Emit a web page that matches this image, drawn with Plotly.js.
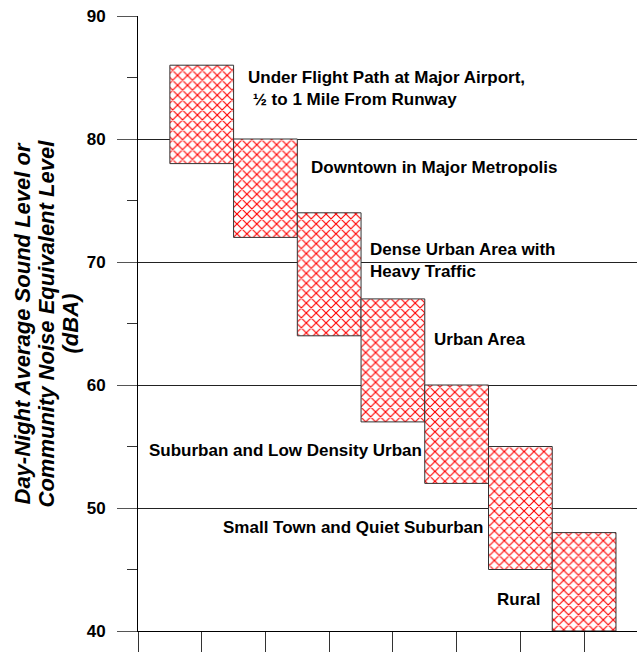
<!DOCTYPE html>
<html>
<head>
<meta charset="utf-8">
<script src="https://cdn.plot.ly/plotly-3.0.1.min.js"></script>
<style>html,body{margin:0;padding:0;background:#fff;}#chart{width:637px;height:652px;}</style>
</head>
<body>
<div id="chart"></div>
<script>
// Data
const categories = [1, 2, 3, 4, 5, 6, 7];
const lowLevels = [78, 72, 64, 57, 52, 45, 40];
const highLevels = [86, 80, 74, 67, 60, 55, 48];
const labels = [
  "Under Flight Path at Major Airport,<br> ½ to 1 Mile From Runway",
  "Downtown in Major Metropolis",
  "Dense Urban Area with<br>Heavy Traffic",
  "Urban Area",
  "Suburban and Low Density Urban",
  "Small Town and Quiet Suburban",
  "Rural"
];
const labelX = [1.70, 2.69, 3.61, 4.62, 0.14, 1.31, 5.60];
const labelY = [84.1, 77.7, 70.1, 63.7, 54.7, 48.4, 42.6];
const yTicks = [40, 50, 60, 70, 80, 90];
const titleLines = ["Day-Night Average Sound Level or", "Community Noise Equivalent Level", "(dBA)"];

const heights = highLevels.map((h, i) => h - lowLevels[i]);

const trace = {
  type: 'bar',
  x: categories,
  y: heights,
  base: lowLevels,
  width: 1,
  marker: {
    color: '#ffffff',
    line: {color: '#333333', width: 1},
    pattern: {shape: 'x', fgcolor: '#ff0000', bgcolor: '#ffffff', size: 7, solidity: 0.3}
  },
  hoverinfo: 'skip'
};

const font = 'Liberation Sans, Arial, sans-serif';
const annotations = labels.map((t, i) => ({
  x: labelX[i], y: labelY[i], xref: 'x', yref: 'y',
  text: t, showarrow: false, xanchor: 'left', yanchor: 'middle', align: 'left',
  font: {family: font, size: 17, color: '#000', weight: 'bold'}
}));
const titleX = [22, 46, 70];
titleLines.forEach((t, i) => {
  annotations.push({
    x: (titleX[i] - 138) / 499, y: 0.5, xref: 'paper', yref: 'paper',
    text: '<b><i>' + t + '</i></b>',
    showarrow: false, textangle: -90, xanchor: 'center', yanchor: 'middle', align: 'center',
    font: {family: font, size: 22, color: '#000'}
  });
});

const layout = {
  width: 637, height: 652,
  margin: {l: 138, r: 0, t: 16, b: 21, pad: 0},
  paper_bgcolor: '#fff', plot_bgcolor: '#fff',
  showlegend: false,
  bargap: 0,
  xaxis: {
    range: [0, 7.83],
    tickvals: [0].concat(categories),
    showticklabels: false,
    ticks: 'outside', ticklen: 20, tickcolor: '#333', tickwidth: 1,
    showgrid: false, zeroline: false,
    showline: true, linecolor: '#000', linewidth: 1,
    fixedrange: true
  },
  yaxis: {
    range: [40, 90],
    tickvals: yTicks,
    ticks: 'outside', ticklen: 20, tickcolor: '#555', tickwidth: 1,
    ticklabelstandoff: 8,
    minor: {dtick: 5, tick0: 45, ticks: 'outside', ticklen: 10, tickcolor: '#333', tickwidth: 1, showgrid: false},
    showgrid: true, gridcolor: '#222', gridwidth: 1,
    zeroline: false,
    showline: true, linecolor: '#000', linewidth: 1,
    tickfont: {family: font, size: 17, color: '#000', weight: 'bold'},
    fixedrange: true
  },
  annotations: annotations
};

Plotly.newPlot('chart', [trace], layout, {displayModeBar: false, staticPlot: true});
</script>
</body>
</html>
